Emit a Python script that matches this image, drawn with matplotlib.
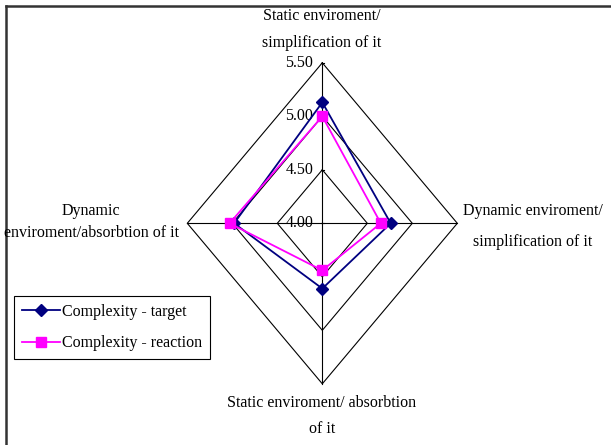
import matplotlib
matplotlib.use('Agg')
import matplotlib.pyplot as plt
import numpy as np
from matplotlib.lines import Line2D

plt.rcParams['font.family'] = ['Liberation Serif', 'DejaVu Serif']

# four spokes, clockwise from the top
categories = ['Static enviroment/\nsimplification of it',
              'Dynamic enviroment/\nsimplification of it',
              'Static enviroment/ absorbtion\nof it',
              'Dynamic\nenviroment/absorbtion of it']
target = [5.13, 4.76, 4.61, 4.98]
reaction = [5.00, 4.65, 4.44, 5.03]
ticks = [4.00, 4.50, 5.00, 5.50]
tick_labels = ['4.00', '4.50', '5.00', '5.50']
series_names = ['Complexity - target', 'Complexity - reaction']
series_colors = ['#000080', '#FF00FF']

r_min = ticks[0]
# unit direction of each spoke (top, right, bottom, left)
dirs = np.array([[0, 1], [1, 0], [0, -1], [-1, 0]])


def to_xy(vals):
    r = np.asarray(vals) - r_min
    pts = dirs * r[:, None]
    pts = np.vstack([pts, pts[:1]])
    return pts[:, 0], pts[:, 1]


fig = plt.figure(figsize=(6.11, 4.45), dpi=100)
ax = fig.add_axes([0.2918, 0.1135, 0.4714, 0.7694])
ax.set_xlim(-1.6, 1.6)
ax.set_ylim(-1.6, 1.6)
ax.axis('off')

# diamond grid
for t in ticks[1:]:
    gx, gy = to_xy([t] * 4)
    ax.plot(gx, gy, color='black', lw=0.8, zorder=1)
# spokes
rmax = ticks[-1] - r_min
for d in dirs:
    ax.plot([0, d[0] * rmax], [0, d[1] * rmax], color='black', lw=0.8, zorder=1)

# tick labels on the top spoke
for t, lab in zip(ticks, tick_labels):
    ax.plot([-0.02, 0.02], [t - r_min] * 2, color='black', lw=0.8, zorder=1)
    ax.annotate(lab, xy=(0, t - r_min), xytext=(-6.5, 0), textcoords='offset points',
                ha='right', va='center', fontsize=11.5)

# data series
mk = ['D', 's']
ms = [6, 7]
for vals, name, c, m, s in zip([target, reaction], series_names, series_colors, mk, ms):
    x, y = to_xy(vals)
    ax.plot(x, y, color=c, lw=1.3, marker=m, markersize=s, markevery=range(4), zorder=3)

# spoke labels
fig.text(322 / 611, 1 - 29.5 / 445, categories[0], ha='center', va='center',
         fontsize=11.5, linespacing=1.9)
fig.text(533 / 611, 1 - 226.5 / 445, categories[1], ha='center', va='center',
         fontsize=11.5, linespacing=2.3)
fig.text(322 / 611, 1 - 416 / 445, categories[2], ha='center', va='center',
         fontsize=11.5, linespacing=1.85)
fig.text(91 / 611, 1 - 222 / 445, categories[3], ha='center', va='center',
         fontsize=11.5, linespacing=1.55)

handles = [Line2D([], [], color=c, lw=1.3, marker=m, markersize=s)
           for c, m, s in zip(series_colors, mk, ms)]
leg = fig.legend(handles, series_names, loc='upper left',
                 bbox_to_anchor=(14 / 611, 1 - 296 / 445), fontsize=11.5,
                 fancybox=False, edgecolor='black', framealpha=1,
                 handlelength=2.35, labelspacing=0.95, borderpad=0.5,
                 handletextpad=0.15, borderaxespad=0)
leg.get_frame().set_linewidth(0.8)

# chart area border (top and left edges visible)
fig.add_artist(Line2D([6 / 611, 1], [1 - 6 / 445] * 2, color='#333333', lw=1.8))
fig.add_artist(Line2D([6 / 611] * 2, [0, 1 - 6 / 445], color='#333333', lw=1.8))

fig.savefig('out.png', dpi=100)
